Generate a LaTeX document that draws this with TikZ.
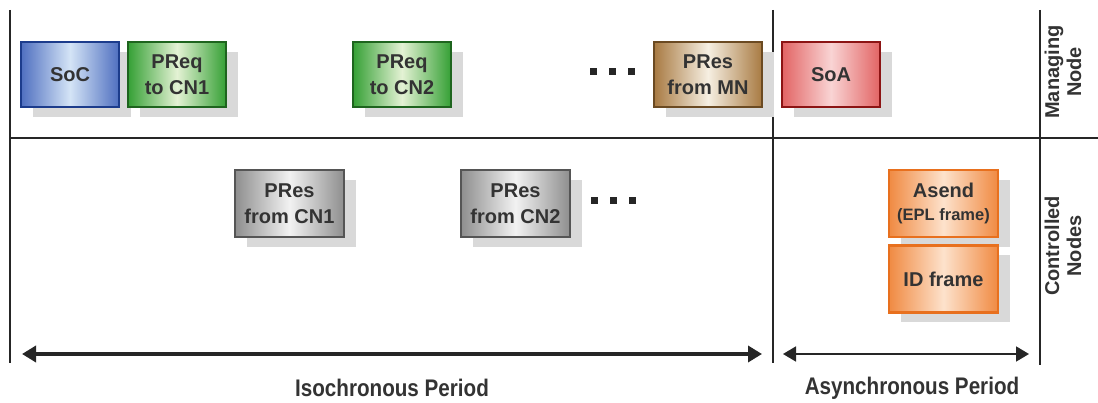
\documentclass[tikz,border=0pt]{standalone}
\usepackage{fontspec}
\setmainfont{Liberation Sans}
\newfontfamily\narrowfont[FakeStretch=0.86]{Liberation Sans}
\usetikzlibrary{shadows,arrows.meta}
\definecolor{txt}{HTML}{333333}
\definecolor{blueB}{HTML}{1C3C8C}\definecolor{blueE}{HTML}{4F6FC0}\definecolor{blueM}{HTML}{D4E4F6}
\definecolor{greenB}{HTML}{1E641E}\definecolor{greenE}{HTML}{35A035}\definecolor{greenM}{HTML}{E4F2D4}
\definecolor{brownB}{HTML}{6B4A22}\definecolor{brownE}{HTML}{A87A42}\definecolor{brownM}{HTML}{F6EFE2}
\definecolor{redB}{HTML}{8C1414}\definecolor{redE}{HTML}{E26464}\definecolor{redM}{HTML}{F9D4D4}
\definecolor{grayB}{HTML}{555555}\definecolor{grayE}{HTML}{8E8E8E}\definecolor{grayM}{HTML}{F2F2F2}
\definecolor{orB}{HTML}{E8701E}\definecolor{orE}{HTML}{F08A42}\definecolor{orM}{HTML}{FDE2CC}
\tikzset{
  frame/.style={draw, line width=2.5pt, minimum height=65pt, inner sep=0pt, align=center,
    font=\bfseries\fontsize{20}{26}\selectfont, text=txt,
    drop shadow={shadow xshift=12pt, shadow yshift=-10pt, fill=black!15, opacity=1}},
  fr/.style n args={3}{frame, draw=#1, left color=#2, right color=#2, middle color=#3},
  divider/.style={line width=2.5pt, draw=black!85},
  dot/.style={fill=black!85, minimum size=7pt, inner sep=0pt},
  side/.style={rotate=90, align=center, font=\bfseries\fontsize{20}{22}\selectfont, text=txt},
  period/.style={font=\narrowfont\bfseries\fontsize{24}{26}\selectfont, text=txt}
}
\begin{document}
\begin{tikzpicture}[x=1pt,y=-1pt]
\useasboundingbox (0,0) rectangle (1098,403);
% frame lines
\coordinate (lt) at (10,10); \coordinate (lb) at (10,363);
\coordinate (mt) at (773,10); \coordinate (mb) at (773,363);
\coordinate (rt) at (1040,10); \coordinate (rb) at (1040,365);
\coordinate (hl) at (10,138); \coordinate (hr) at (1098,138);
\draw[divider] (lt) -- (lb);
\draw[divider] (mt) -- (mb);
\draw[divider] (rt) -- (rb);
\draw[line width=2pt, draw=black!85] (hl) -- (hr);
% managing node row
\node[fr={blueB}{blueE}{blueM}, minimum width=98pt] (soc) at (70,74.5) {SoC};
\node[fr={greenB}{greenE}{greenM}, minimum width=98pt] (preq1) at (177,74.5) {PReq\\to CN1};
\node[fr={greenB}{greenE}{greenM}, minimum width=98pt] (preq2) at (402,74.5) {PReq\\to CN2};
\node[dot] (d1) at (593,72) {};
\node[dot] (d2) at (612,72) {};
\node[dot] (d3) at (631,72) {};
\node[fr={brownB}{brownE}{brownM}, minimum width=108pt] (presmn) at (708,74.5) {PRes\\from MN};
\node[fr={redB}{redE}{redM}, minimum width=98pt] (soa) at (831,74.5) {SoA};
% controlled nodes row
\node[fr={grayB}{grayE}{grayM}, minimum width=109pt, minimum height=67pt] (pres1) at (289.5,203.5) {PRes\\from CN1};
\node[fr={grayB}{grayE}{grayM}, minimum width=109pt, minimum height=67pt] (pres2) at (515.5,203.5) {PRes\\from CN2};
\node[dot] (e1) at (594,201) {};
\node[dot] (e2) at (613,201) {};
\node[dot] (e3) at (632,201) {};
\node[fr={orB}{orE}{orM}, minimum width=109pt, minimum height=67pt] (asend) at (943.5,203.5) {Asend\\[-3pt]{\fontsize{16.5}{18}\selectfont (EPL frame)}};
\node[fr={orB}{orE}{orM}, minimum width=109pt, minimum height=67pt] (idf) at (943.5,279) {ID frame};
% side labels
\node[side] (mn) at (1063,72) {Managing\\Node};
\node[side] (cn) at (1063,246) {Controlled\\Nodes};
% periods
\coordinate (ia) at (22,354); \coordinate (ib) at (762,354);
\coordinate (aa) at (783,354); \coordinate (ab) at (1029,354);
\draw[line width=3.5pt, draw=black!85, {Triangle[length=14pt,width=16pt]}-{Triangle[length=14pt,width=16pt]}] (ia) -- (ib);
\draw[line width=1.8pt, draw=black!85, {Triangle[length=13pt,width=15pt]}-{Triangle[length=13pt,width=15pt]}] (aa) -- (ab);
\node[period] (iso) at (392,388) {Isochronous Period};
\node[period] (asy) at (912,388) {Asynchronous Period};
\end{tikzpicture}
\end{document}
